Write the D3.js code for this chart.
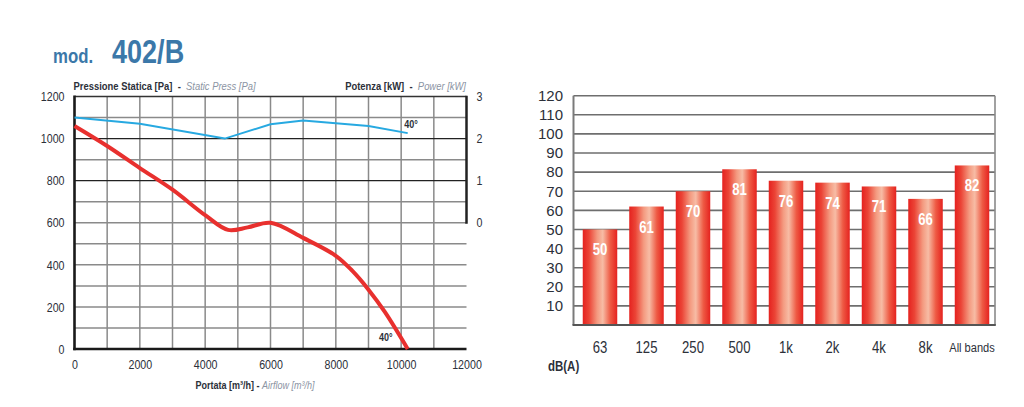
<!DOCTYPE html>
<html>
<head>
<meta charset="utf-8">
<script src="https://cdn.jsdelivr.net/npm/d3@7"></script>
<style>
  html, body { margin: 0; padding: 0; background: #fff; }
  svg { display: block; }
</style>
</head>
<body>
<svg id="chart" width="1024" height="407"></svg>
<script>
// ---------- data ----------
const pressureFlow = [0, 1000, 2000, 3000, 4000, 4700, 5300, 6000, 7000, 8000, 8500, 9000, 9500, 10200];
const pressureValues = [1060, 965, 860, 757, 636, 566, 578, 600, 528, 443, 372, 282, 176, 0];
const powerFlow = [0, 2000, 4600, 6000, 7000, 9000, 10200];
const powerValues = [2.5, 2.35, 2.0, 2.34, 2.43, 2.3, 2.13];
const flowTicks = [0, 2000, 4000, 6000, 8000, 10000, 12000];
const pressureTicks = [0, 200, 400, 600, 800, 1000, 1200];
const powerTicks = [0, 1, 2, 3];

const bandCategories = ["63", "125", "250", "500", "1k", "2k", "4k", "8k", "All bands"];
const bandValues = [50, 62, 70, 81.5, 75.5, 74.5, 72.5, 66, 83.5];
const bandLabels = ["50", "61", "70", "81", "76", "74", "71", "66", "82"];
const dbTicks = [10, 20, 30, 40, 50, 60, 70, 80, 90, 100, 110, 120];

const FONT = '"Liberation Sans", Arial, sans-serif';
const TXT = "#2c3039";
const K = 0.82; // horizontal condensing factor

// condense text horizontally around its anchor point
function narrow(sel) {
  sel.each(function () {
    const t = d3.select(this);
    const tx = +t.attr("x") || 0, ty = +t.attr("y") || 0;
    t.attr("x", 0).attr("y", 0).attr("transform", `translate(${tx},${ty}) scale(${K},1)`);
  });
}

const svg = d3.select("#chart");
svg.attr("font-family", FONT);

// ---------- title ----------
const title = svg.append("text").attr("x", 53).attr("y", 63)
  .attr("font-weight", "bold").attr("fill", "#3b78a9");
title.append("tspan").attr("font-size", 20.5).text("mod.");
title.append("tspan").attr("font-size", 33).attr("dx", 23).text("402/B");
narrow(title);

// ---------- left chart ----------
const x = d3.scaleLinear().domain([0, 12000]).range([74.5, 466.5]);
const y = d3.scaleLinear().domain([0, 1200]).range([349, 96.5]);
const yP = d3.scaleLinear().domain([0, 3]).range([y(600), y(1200)]);

const L = svg.append("g");
L.append("g").selectAll("line").data(d3.range(1000, 12000, 1000)).join("line")
  .attr("x1", d => x(d)).attr("x2", d => x(d))
  .attr("y1", y(1200)).attr("y2", y(0))
  .attr("stroke", "#8a8a8a").attr("stroke-width", 1.5);
L.append("g").selectAll("line").data(d3.range(100, 1200, 100)).join("line")
  .attr("x1", x(0)).attr("x2", x(12000))
  .attr("y1", d => y(d)).attr("y2", d => y(d))
  .attr("stroke", d => (d === 800 || d === 1000) ? "#222" : "#8a8a8a")
  .attr("stroke-width", d => (d === 800 || d === 1000) ? 1.2 : 1.5);
L.append("line").attr("x1", x(0)).attr("x2", x(12000)).attr("y1", y(1200)).attr("y2", y(1200))
  .attr("stroke", "#333").attr("stroke-width", 1.5);
L.append("line").attr("x1", x(12000)).attr("x2", x(12000)).attr("y1", y(1200) - 0.75).attr("y2", y(600) + 1)
  .attr("stroke", "#222").attr("stroke-width", 2.5);
L.append("line").attr("x1", x(0)).attr("x2", x(0)).attr("y1", y(1200) - 1).attr("y2", y(0) + 1.2)
  .attr("stroke", "#1a1a1a").attr("stroke-width", 2.6);
L.append("line").attr("x1", x(0) - 1.3).attr("x2", x(12000)).attr("y1", y(0)).attr("y2", y(0))
  .attr("stroke", "#1a1a1a").attr("stroke-width", 2.6);

function styleAxis(g, size) {
  g.select(".domain").remove();
  g.selectAll("text").attr("font-family", FONT).attr("font-size", size).attr("fill", TXT).call(narrow);
}
L.append("g").attr("transform", `translate(${x(0)},0)`)
  .call(d3.axisLeft(y).tickValues(pressureTicks).tickFormat(d3.format("d")).tickSize(0).tickPadding(10))
  .call(g => styleAxis(g, 13));
L.append("g").attr("transform", `translate(0,${y(0)})`)
  .call(d3.axisBottom(x).tickValues(flowTicks).tickFormat(d3.format("d")).tickSize(0).tickPadding(11))
  .call(g => styleAxis(g, 13));
L.append("g").attr("transform", `translate(${x(12000)},0)`)
  .call(d3.axisRight(yP).tickValues(powerTicks).tickFormat(d3.format("d")).tickSize(0).tickPadding(10))
  .call(g => styleAxis(g, 13));

L.append("path").datum(powerFlow.map((f, i) => [f, powerValues[i]]))
  .attr("fill", "none").attr("stroke", "#27a9e1").attr("stroke-width", 2)
  .attr("d", d3.line().x(d => x(d[0])).y(d => yP(d[1])));
L.append("path").datum(pressureFlow.map((f, i) => [f, pressureValues[i]]))
  .attr("fill", "none").attr("stroke", "#e8302e").attr("stroke-width", 4)
  .attr("d", d3.line().curve(d3.curveCatmullRom.alpha(0.5)).x(d => x(d[0])).y(d => y(d[1])));

L.append("text").attr("x", x(10000) + 3).attr("y", 128.3)
  .attr("font-weight", "bold").attr("font-size", 11).attr("fill", TXT).text("40°").call(narrow);
L.append("text").attr("x", x(9200) + 4).attr("y", 340.5)
  .attr("font-weight", "bold").attr("font-size", 11).attr("fill", TXT).text("40°").call(narrow);

const h1 = L.append("text").attr("x", 73.5).attr("y", 90).attr("font-size", 11.5);
h1.append("tspan").attr("font-weight", "bold").attr("fill", TXT).text("Pressione Statica [Pa]");
h1.append("tspan").attr("font-weight", "bold").attr("fill", TXT).attr("xml:space", "preserve").text("  -  ");
h1.append("tspan").attr("font-style", "italic").attr("fill", "#8b94a3").text("Static Press [Pa]");
h1.attr("xml:space", "preserve").call(narrow);
const h2 = L.append("text").attr("x", 466).attr("y", 90).attr("text-anchor", "end").attr("font-size", 11.5).attr("xml:space", "preserve");
h2.append("tspan").attr("font-weight", "bold").attr("fill", TXT).text("Potenza [kW]");
h2.append("tspan").attr("font-weight", "bold").attr("fill", TXT).text("  -  ");
h2.append("tspan").attr("font-style", "italic").attr("fill", "#8b94a3").text("Power [kW]");
h2.call(narrow);
const h3 = L.append("text").attr("x", 255).attr("y", 389).attr("text-anchor", "middle").attr("font-size", 11);
h3.append("tspan").attr("font-weight", "bold").attr("fill", TXT).text("Portata [m³/h]");
h3.append("tspan").attr("font-weight", "bold").attr("fill", TXT).text(" - ");
h3.append("tspan").attr("font-style", "italic").attr("fill", "#8b94a3").text("Airflow [m³/h]");
h3.call(narrow);

// ---------- right chart ----------
const yR = d3.scaleLinear().domain([0, 120]).range([325, 95.7]);
const xR = d3.scaleBand().domain(bandCategories).range([576, 996]).paddingInner(0.258).paddingOuter(0.145);
const R = svg.append("g");
const fx0 = 573.5, fx1 = 995;

const defs = svg.append("defs");
const grad = defs.append("linearGradient").attr("id", "barGrad").attr("x1", "0").attr("x2", "1").attr("y1", "0").attr("y2", "0");
[[0, "#e5221f"], [0.18, "#eb4436"], [0.42, "#f49a80"], [0.58, "#f7bca5"], [0.8, "#ee5a44"], [1, "#e5221f"]]
  .forEach(([o, c]) => grad.append("stop").attr("offset", o).attr("stop-color", c));

R.append("g").selectAll("line").data(dbTicks).join("line")
  .attr("x1", fx0).attr("x2", fx1).attr("y1", d => yR(d)).attr("y2", d => yR(d))
  .attr("stroke", "#6e6e6e").attr("stroke-width", 1.6);
R.append("line").attr("x1", fx0).attr("x2", fx0).attr("y1", yR(120)).attr("y2", yR(0))
  .attr("stroke", "#7a7a7a").attr("stroke-width", 2);
R.append("line").attr("x1", fx1).attr("x2", fx1).attr("y1", yR(120)).attr("y2", yR(0))
  .attr("stroke", "#8a8a8a").attr("stroke-width", 1.6);

R.append("g").selectAll("rect").data(bandCategories).join("rect")
  .attr("x", d => xR(d)).attr("width", xR.bandwidth())
  .attr("y", (d, i) => yR(bandValues[i])).attr("height", (d, i) => yR(0) - yR(bandValues[i]))
  .attr("fill", "url(#barGrad)");

R.append("line").attr("x1", fx0 - 1).attr("x2", fx1 + 0.8).attr("y1", yR(0)).attr("y2", yR(0))
  .attr("stroke", "#555").attr("stroke-width", 2);

R.append("g").selectAll("text").data(bandCategories).join("text")
  .attr("x", d => xR(d) + xR.bandwidth() / 2)
  .attr("y", (d, i) => yR(bandValues[i]) + 26)
  .attr("text-anchor", "middle").attr("font-weight", "bold")
  .attr("font-size", 16).attr("fill", "#fff")
  .text((d, i) => bandLabels[i])
  .call(narrow);

R.append("g").attr("transform", `translate(${fx0 - 0.5},0)`)
  .call(d3.axisLeft(yR).tickValues(dbTicks).tickSize(0).tickPadding(10))
  .call(g => { g.select(".domain").remove();
    g.selectAll("text").attr("font-family", FONT).attr("font-size", 15).attr("fill", TXT); });

R.append("g").attr("transform", `translate(0,${yR(0)})`)
  .call(d3.axisBottom(xR).tickSize(0).tickPadding(17))
  .call(g => { g.select(".domain").remove();
    g.selectAll("text").attr("font-family", FONT).attr("font-size", d => d.length > 3 ? 13.5 : 16).attr("fill", TXT).call(narrow); });

R.append("text").attr("x", 548).attr("y", 371).attr("font-weight", "bold")
  .attr("font-size", 14).attr("fill", TXT).text("dB(A)").call(narrow);
</script>
</body>
</html>
